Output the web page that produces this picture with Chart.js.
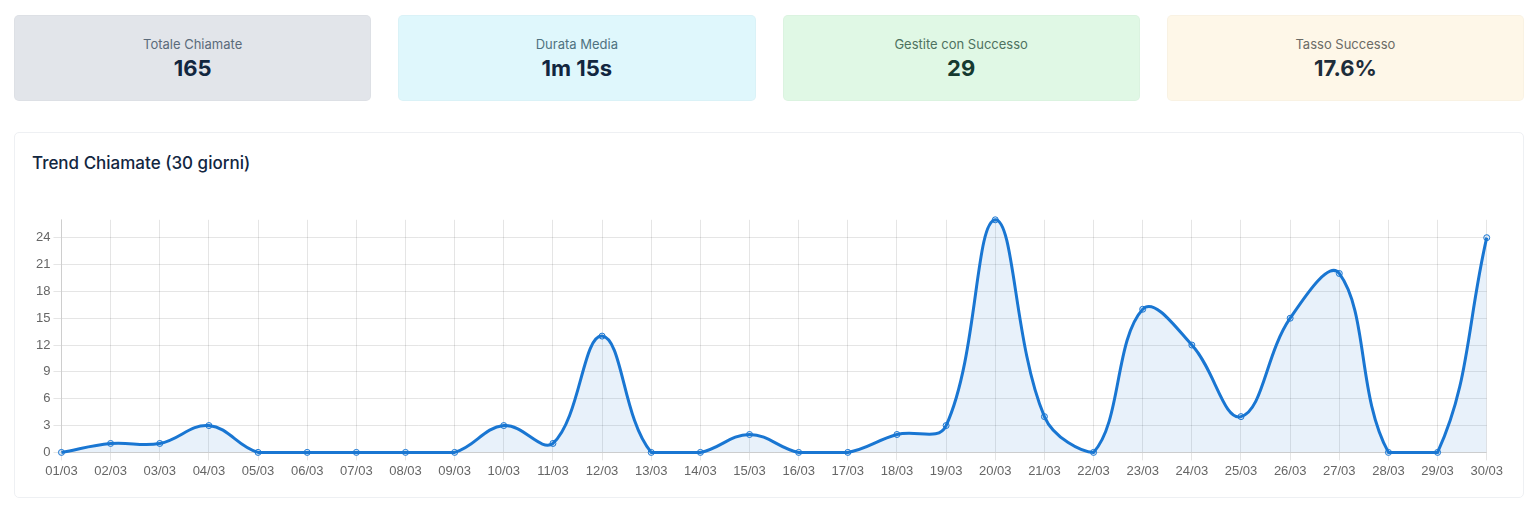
<!DOCTYPE html>
<html lang="it">
<head>
  <meta charset="UTF-8">
  <meta name="viewport" content="width=device-width, initial-scale=1.0">
  <title>Trend Chiamate</title>
  <script src="https://cdn.jsdelivr.net/npm/chart.js"></script>
  <style>
    * { box-sizing: border-box; }
    body {
      margin: 0;
      padding: 15px 12px 0 14px;
      background: #fff;
      font-family: Inter, "Noto Sans", sans-serif;
      color: #12263f;
    }
    .stats {
      display: flex;
      gap: 27px;
    }
    .stat-card {
      flex: 1;
      height: 86px;
      border-radius: 5px;
      border: 1px solid rgba(0,0,0,0.02);
      text-align: center;
      padding-top: 19px;
    }
    .stat-card .label {
      font-size: 13px;
      line-height: 18px;
      color: #5b6b7b;
    }
    .stat-card .value {
      font-size: 22px;
      font-weight: 700;
      line-height: 28px;
      margin-top: 1px;
    }
    .gray { background: #e2e5ea; }
    .cyan { background: #dff7fc; }
    .cyan .label { color: #4f7280; }
    .green { background: #e0f8e5; }
    .green .label { color: #4e7260; }
    .green .value { color: #163a30; }
    .cream { background: #fef7e8; }
    .cream .label { color: #6b6b66; }
    .cream .value { color: #1f2d3a; }

    .chart-card {
      margin-top: 31px;
      height: 366px;
      border: 1px solid #eef0f3;
      border-radius: 5px;
      padding: 18px 17px 0 17px;
    }
    .chart-card h3 {
      margin: 0;
      font-size: 17px;
      font-weight: 500;
      line-height: 24px;
      color: #12263f;
    }
    .chart-wrap {
      position: relative;
      height: 273px;
      margin-top: 34px;
      margin-left: 1px;
    }
  </style>
</head>
<body>
  <div class="stats">
    <div class="stat-card gray">
      <div class="label">Totale Chiamate</div>
      <div class="value">165</div>
    </div>
    <div class="stat-card cyan">
      <div class="label">Durata Media</div>
      <div class="value">1m 15s</div>
    </div>
    <div class="stat-card green">
      <div class="label">Gestite con Successo</div>
      <div class="value">29</div>
    </div>
    <div class="stat-card cream">
      <div class="label">Tasso Successo</div>
      <div class="value">17.6%</div>
    </div>
  </div>

  <div class="chart-card">
    <h3>Trend Chiamate (30 giorni)</h3>
    <div class="chart-wrap">
      <canvas id="trendChart"></canvas>
    </div>
  </div>

  <script>
    const days = [
      "01/03", "02/03", "03/03", "04/03", "05/03", "06/03", "07/03", "08/03", "09/03", "10/03",
      "11/03", "12/03", "13/03", "14/03", "15/03", "16/03", "17/03", "18/03", "19/03", "20/03",
      "21/03", "22/03", "23/03", "24/03", "25/03", "26/03", "27/03", "28/03", "29/03", "30/03"
    ];
    const calls = [
      0, 1, 1, 3, 0, 0, 0, 0, 0, 3,
      1, 13, 0, 0, 2, 0, 0, 2, 3, 26,
      4, 0, 16, 12, 4, 15, 20, 0, 0, 24
    ];
    const yStep = 3;

    const ctx = document.getElementById("trendChart").getContext("2d");
    new Chart(ctx, {
      type: "line",
      data: {
        labels: days,
        datasets: [{
          label: "Chiamate",
          data: calls,
          borderColor: "#1976d2",
          backgroundColor: "rgba(25, 118, 210, 0.1)",
          borderWidth: 3,
          fill: true,
          tension: 0.4,
          clip: false,
          pointRadius: 3,
          pointBorderWidth: 1,
          pointBorderColor: "#1976d2",
          pointBackgroundColor: "rgba(25, 118, 210, 0.1)"
        }]
      },
      options: {
        responsive: true,
        maintainAspectRatio: false,
        animation: false,
        plugins: {
          legend: { display: false },
          tooltip: { enabled: false }
        },
        scales: {
          x: {
            ticks: { color: "#666", font: { size: 13 }, maxRotation: 0, autoSkip: false }
          },
          y: {
            min: 0,
            max: Math.max(...calls),
            ticks: { stepSize: yStep, includeBounds: false, color: "#666", font: { size: 13 } }
          }
        }
      }
    });
  </script>
</body>
</html>
